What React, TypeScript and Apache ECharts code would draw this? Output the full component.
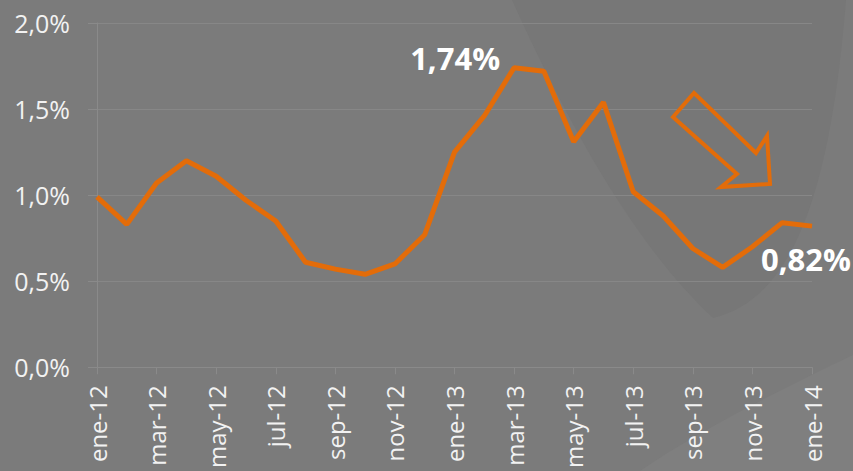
import React, { useEffect, useRef } from "react";
import * as echarts from "echarts";

const categories = [
  "ene-12", "feb-12", "mar-12", "abr-12", "may-12", "jun-12", "jul-12", "ago-12", "sep-12", "oct-12", "nov-12", "dic-12",
  "ene-13", "feb-13", "mar-13", "abr-13", "may-13", "jun-13", "jul-13", "ago-13", "sep-13", "oct-13", "nov-13", "dic-13",
  "ene-14",
];
const values = [
  0.99, 0.83, 1.07, 1.2, 1.11, 0.97, 0.85, 0.61, 0.57, 0.54, 0.6, 0.77,
  1.25, 1.46, 1.74, 1.72, 1.31, 1.54, 1.02, 0.88, 0.69, 0.58, 0.7, 0.84,
  0.82,
];
const peakLabel = "1,74%";
const lastLabel = "0,82%";
const yMin = 0;
const yMax = 2;
const yStep = 0.5;

const ORANGE = "#E36C09";
const BG = "#7b7b7b";

echarts.graphic.registerShape(
  "swooshDark",
  echarts.graphic.extendPath(
    "M 512 0 C 575 140 640 250 713 318 C 790 300 830 200 846 0 Z",
    {}
  )
);
echarts.graphic.registerShape(
  "swooshLight",
  echarts.graphic.extendPath(
    "M 640 471 C 700 430 780 390 853 355 L 853 471 Z",
    {}
  )
);

const labelFont = {
  color: "#ffffff",
  fontSize: 31,
  fontWeight: "bold",
  fontFamily: "Open Sans",
};

export default function App() {
  const ref = useRef<HTMLDivElement>(null);
  useEffect(() => {
    document.body.style.margin = "0";
    document.body.style.background = BG;
    const chart = echarts.init(ref.current!, null, { renderer: "svg" });
    const data = values.map((v, i) => {
      if (i === 14) {
        return {
          value: v,
          label: {
            show: true,
            formatter: peakLabel,
            position: "left",
            distance: 14,
            offset: [0, -10],
            ...labelFont,
          },
        };
      }
      if (i === values.length - 1) {
        return {
          value: v,
          label: {
            show: true,
            formatter: lastLabel,
            position: "bottom",
            distance: 17,
            offset: [-6, 0],
            ...labelFont,
          },
        };
      }
      return v;
    });
    chart.setOption({
      animation: false,
      backgroundColor: BG,
      textStyle: { fontFamily: "Open Sans" },
      graphic: [
        {
          type: "swooshDark",
          x: 0,
          y: 0,
          z: -100,
          silent: true,
          style: { fill: "#777777" },
        },
        {
          type: "swooshLight",
          x: 0,
          y: 0,
          z: -100,
          silent: true,
          style: { fill: "#7f7f7f" },
        },
        {
          type: "polygon",
          z: 10,
          silent: true,
          shape: {
            points: [
              [694, 93],
              [756, 153],
              [767, 136],
              [770, 184],
              [721, 187],
              [737, 174],
              [673, 117],
            ],
          },
          style: { fill: "none", stroke: ORANGE, lineWidth: 4, lineJoin: "miter" },
        },
      ],
      grid: { left: 97, right: 41, top: 23, bottom: 101, containLabel: false },
      xAxis: {
        type: "category",
        data: categories,
        boundaryGap: false,
        axisLine: { show: true, lineStyle: { color: "#8a8a8a", width: 1 } },
        axisTick: {
          show: true,
          interval: 1,
          length: 7,
          lineStyle: { color: "#8a8a8a" },
        },
        axisLabel: {
          interval: 1,
          rotate: 90,
          margin: 18,
          color: "#f2f2f2",
          fontSize: 24,
          fontFamily: "Open Sans",
        },
        splitLine: { show: false },
      },
      yAxis: {
        type: "value",
        min: yMin,
        max: yMax,
        interval: yStep,
        axisLine: { show: true, lineStyle: { color: "#8a8a8a", width: 1 } },
        axisTick: { show: true, length: 9, lineStyle: { color: "#8a8a8a" } },
        axisLabel: {
          margin: 27,
          color: "#f2f2f2",
          fontSize: 25,
          fontFamily: "Open Sans",
          formatter: (v: number) => v.toFixed(1).replace(".", ",") + "%",
        },
        splitLine: { show: true, lineStyle: { color: "#878787", width: 1 } },
      },
      series: [
        {
          type: "line",
          data,
          symbol: "circle",
          symbolSize: 0,
          showSymbol: true,
          label: { show: false },
          lineStyle: { color: ORANGE, width: 5 },
          itemStyle: { color: ORANGE },
          z: 5,
        },
      ],
    });
    return () => chart.dispose();
  }, []);
  return (
    <div
      ref={ref}
      style={{ position: "fixed", left: 0, top: 0, width: 853, height: 471, background: BG }}
    />
  );
}
